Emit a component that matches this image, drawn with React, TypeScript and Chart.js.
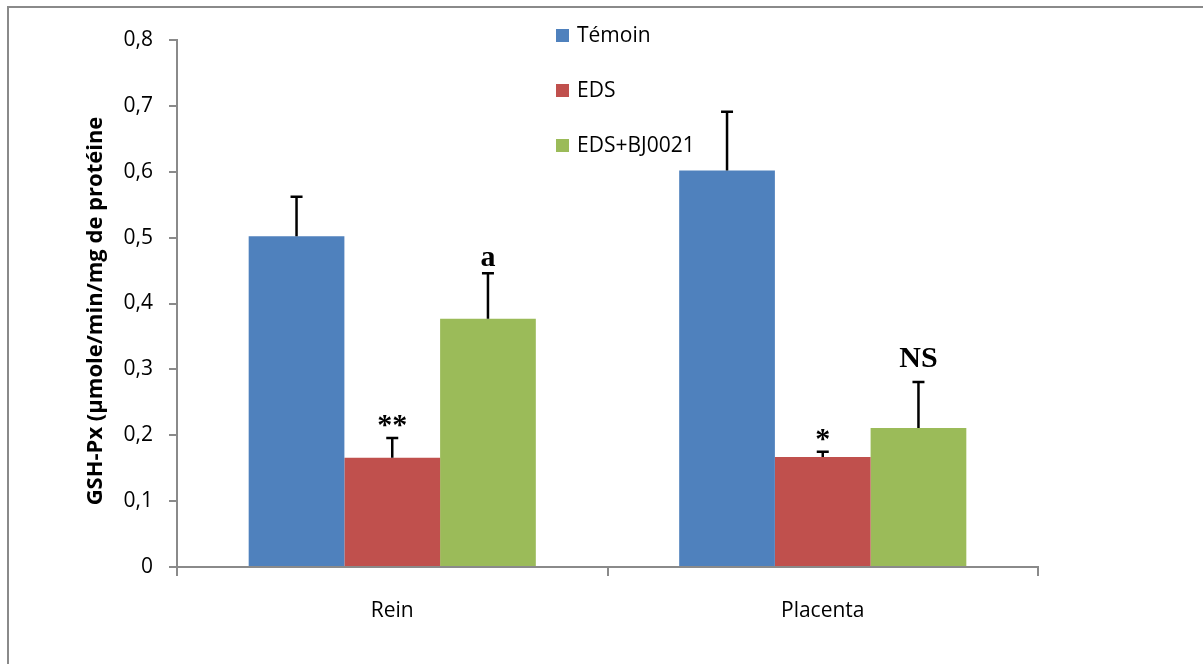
import React, { useEffect, useRef } from "react";
import { Chart, registerables } from "chart.js";

Chart.register(...registerables);

const categories = ["Rein", "Placenta"];
const seriesNames = ["Témoin", "EDS", "EDS+BJ0021"];
const temoinValues = [0.502, 0.602];
const edsValues = [0.166, 0.167];
const bjValues = [0.377, 0.211];
const temoinErrors = [0.06, 0.089];
const edsErrors = [0.03, 0.008];
const bjErrors = [0.069, 0.07];
const yTicks = [0, 0.1, 0.2, 0.3, 0.4, 0.5, 0.6, 0.7, 0.8];
const yTitle = "GSH-Px (µmole/min/mg de protéine";
const annotationTexts = ["**", "a", "*", "NS"];
const annotationSeries = [1, 2, 1, 2];
const annotationCategories = [0, 0, 1, 1];

const colors = ["#4F81BD", "#C0504D", "#9BBB59"];
const annotationGaps = [4, 7, 4, 15];
const FONT = "'Open Sans', 'Noto Sans', sans-serif";

const extrasPlugin = {
  id: "extras",
  beforeDraw(chart: any) {
    const ctx = chart.ctx;
    ctx.save();
    ctx.fillStyle = "#ffffff";
    ctx.fillRect(0, 0, chart.width, chart.height);
    ctx.strokeStyle = "#8a8a8a";
    ctx.lineWidth = 2;
    ctx.strokeRect(8, 7, chart.width + 20, chart.height + 20);
    ctx.restore();
  },
  afterDatasetsDraw(chart: any) {
    const ctx = chart.ctx;
    const y = chart.scales.y;
    const errs = [temoinErrors, edsErrors, bjErrors];
    const vals = [temoinValues, edsValues, bjValues];
    ctx.save();
    ctx.strokeStyle = "#000";
    ctx.lineWidth = 2.5;
    for (let d = 0; d < 3; d++) {
      const meta = chart.getDatasetMeta(d);
      meta.data.forEach((bar: any, i: number) => {
        const x = bar.x;
        const y0 = y.getPixelForValue(vals[d][i]);
        const y1 = y.getPixelForValue(vals[d][i] + errs[d][i]);
        ctx.beginPath();
        ctx.moveTo(x, y0);
        ctx.lineTo(x, y1);
        ctx.moveTo(x - 6, y1);
        ctx.lineTo(x + 6, y1);
        ctx.stroke();
      });
    }
    // annotations
    ctx.fillStyle = "#000";
    ctx.font = "bold 30px 'Liberation Serif', 'Times New Roman', serif";
    ctx.textAlign = "center";
    ctx.textBaseline = "alphabetic";
    annotationTexts.forEach((t, k) => {
      const d = annotationSeries[k];
      const i = annotationCategories[k];
      const bar = chart.getDatasetMeta(d).data[i];
      const yTop = y.getPixelForValue(vals[d][i] + errs[d][i]);
      ctx.fillText(t, bar.x, yTop - annotationGaps[k]);
    });
    // legend
    ctx.font = `21px ${FONT}`;
    ctx.textAlign = "left";
    ctx.textBaseline = "middle";
    seriesNames.forEach((name, k) => {
      const cy = 35 + k * 55;
      ctx.fillStyle = colors[k];
      ctx.fillRect(556, cy - 6, 13, 13);
      ctx.fillStyle = "#000";
      ctx.fillText(name, 577, cy + 1);
    });
    // y title
    ctx.save();
    ctx.translate(96, 311);
    ctx.rotate(-Math.PI / 2);
    ctx.font = `bold 22px ${FONT}`;
    ctx.textAlign = "center";
    ctx.textBaseline = "middle";
    ctx.fillText(yTitle, 0, 0);
    ctx.restore();
    ctx.restore();
  },
};

export default function App() {
  const ref = useRef<HTMLCanvasElement>(null);
  useEffect(() => {
    if (!ref.current) return;
    const chart = new Chart(ref.current, {
      type: "bar",
      data: {
        labels: categories,
        datasets: [
          { label: seriesNames[0], data: temoinValues, backgroundColor: colors[0] },
          { label: seriesNames[1], data: edsValues, backgroundColor: colors[1] },
          { label: seriesNames[2], data: bjValues, backgroundColor: colors[2] },
        ],
      },
      options: {
        responsive: false,
        animation: false,
        devicePixelRatio: 1,
        layout: { padding: { top: 40, right: 165, left: 0, bottom: 0 } },
        datasets: { bar: { categoryPercentage: 0.667, barPercentage: 1 } },
        plugins: { legend: { display: false }, tooltip: { enabled: false } },
        scales: {
          x: {
            grid: {
              offset: true,
              drawOnChartArea: false,
              drawTicks: true,
              tickLength: 9,
              color: "#8a8a8a",
              lineWidth: 2,
            },
            border: { color: "#8a8a8a", width: 2 },
            ticks: { color: "#000", font: { family: FONT, size: 21 }, padding: 22 },
            afterFit: (s: any) => {
              s.height = 97;
            },
          },
          y: {
            min: 0,
            max: 0.8,
            afterBuildTicks: (s: any) => {
              s.ticks = yTicks.map((v) => ({ value: v }));
            },
            grid: {
              drawOnChartArea: false,
              drawTicks: true,
              tickLength: 8,
              color: "#8a8a8a",
              lineWidth: 2,
            },
            border: { color: "#8a8a8a", width: 2 },
            ticks: {
              color: "#000",
              font: { family: FONT, size: 21 },
              padding: 16,
              callback: (v: any) => (Number(v) === 0 ? "0" : Number(v).toFixed(1).replace(".", ",")),
            },
            afterFit: (s: any) => {
              s.width = 177;
            },
          },
        },
      },
      plugins: [extrasPlugin],
    });
    return () => chart.destroy();
  }, []);
  return (
    <div style={{ position: "fixed", left: 0, top: 0, width: 1203, height: 664, background: "#fff" }}>
      <canvas ref={ref} width={1203} height={664} />
    </div>
  );
}
